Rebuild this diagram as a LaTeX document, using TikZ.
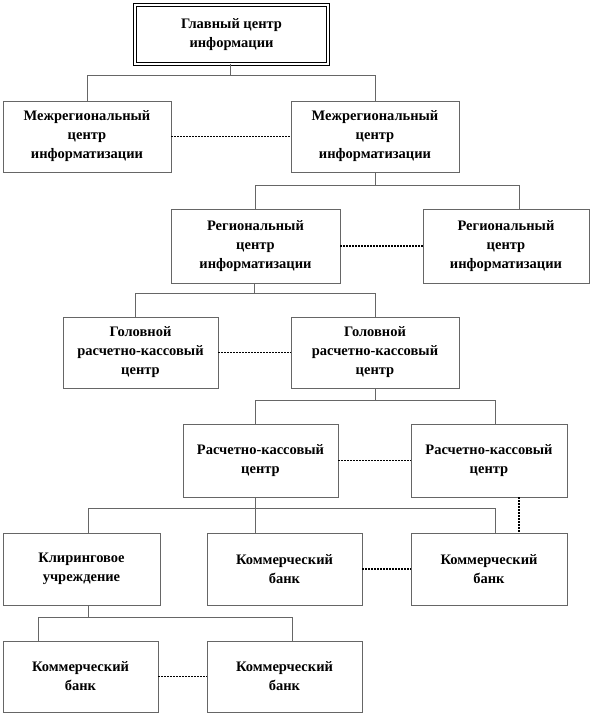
\documentclass[tikz,border=0pt]{standalone}
\usepackage{fontspec}
\setmainfont{Liberation Serif}
\begin{document}
\begin{tikzpicture}[x=1pt,y=-1pt,
  box/.style={draw=black!60,line width=0.7pt,fill=white,align=center,
    font=\fontsize{14.5}{19}\selectfont\bfseries,inner sep=0pt},
  tree/.style={draw=black!60,line width=0.7pt},
  peer/.style={draw=black,line width=1.4pt,dash pattern=on 1.6pt off 1.4pt},
]
\useasboundingbox (0,0) rectangle (594,716);
% nodes
\node[box,draw=black,line width=0.8pt,double,double distance=2pt,minimum width=193pt,minimum height=59pt] (top) at (231.5,34.5) {Главный центр\\информации};
\node[box,minimum width=168pt,minimum height=71pt] (m1) at (87,136.5) {Межрегиональный\\центр\\информатизации};
\node[box,minimum width=168pt,minimum height=71pt] (m2) at (375,136.5) {Межрегиональный\\центр\\информатизации};
\node[box,minimum width=169pt,minimum height=74pt] (r1) at (255.5,246) {Региональный\\центр\\информатизации};
\node[box,minimum width=166pt,minimum height=74pt] (r2) at (506,246) {Региональный\\центр\\информатизации};
\node[box,minimum width=155pt,minimum height=71pt] (g1) at (140.5,352.5) {Головной\\расчетно-кассовый\\центр};
\node[box,minimum width=168pt,minimum height=71pt] (g2) at (375,352.5) {Головной\\расчетно-кассовый\\центр};
\node[box,minimum width=155pt,minimum height=73pt] (k1) at (260.5,460.5) {Расчетно-кассовый\\центр};
\node[box,minimum width=156pt,minimum height=73pt] (k2) at (489,460.5) {Расчетно-кассовый\\центр};
\node[box,minimum width=157pt,minimum height=72pt] (cl) at (81.5,569) {Клиринговое\\учреждение};
\node[box,minimum width=155pt,minimum height=72pt] (b1) at (284.5,569) {Коммерческий\\банк};
\node[box,minimum width=156pt,minimum height=72pt] (b2) at (489,569) {Коммерческий\\банк};
\node[box,minimum width=155pt,minimum height=71pt] (b3) at (80.5,676.5) {Коммерческий\\банк};
\node[box,minimum width=155pt,minimum height=71pt] (b4) at (284.5,676.5) {Коммерческий\\банк};
% tree connectors
\draw[tree] ([xshift=-1.5pt]top.south) -- ([xshift=-1.5pt]top.south |- 0,75) coordinate (j1);
\draw[tree] (j1) -| (m1.north);
\draw[tree] (j1) -| (m2.north);
\draw[tree] (m2.south) -- (m2.south |- 0,185) coordinate (j2);
\draw[tree] (j2) -| ([xshift=-0.5pt]r1.north);
\draw[tree] (j2) -| ([xshift=13pt]r2.north);
\draw[tree] ([xshift=-1.5pt]r1.south) -- ([xshift=-1.5pt]r1.south |- 0,293) coordinate (j3);
\draw[tree] (j3) -| ([xshift=-5.5pt]g1.north);
\draw[tree] (j3) -| (g2.north);
\draw[tree] (g2.south) -- (g2.south |- 0,400) coordinate (j4);
\draw[tree] (j4) -| ([xshift=-5.5pt]k1.north);
\draw[tree] (j4) -| ([xshift=6pt]k2.north);
\draw[tree] ([xshift=-5.5pt]k1.south) -- ([xshift=-29.5pt]b1.north);
\coordinate (j5) at ([xshift=-5.5pt]k1.south |- 0,508);
\draw[tree] (j5) -| ([xshift=6.5pt]cl.north);
\draw[tree] (j5) -| ([xshift=6pt]b2.north);
\draw[tree] ([xshift=6.5pt]cl.south) -- ([xshift=6.5pt]cl.south |- 0,617) coordinate (j6);
\draw[tree] (j6) -| ([xshift=-42.5pt]b3.north);
\draw[tree] (j6) -| ([xshift=7.5pt]b4.north);
% peer connectors
\draw[peer] (m1.east) -- (m2.west);
\draw[peer] (r1.east) -- (r2.west);
\draw[peer] (g1.east) -- (g2.west);
\draw[peer] (k1.east) -- (k2.west);
\draw[peer] (b1.east) -- (b2.west);
\draw[peer] (b3.east) -- (b4.west);
\draw[peer] ([xshift=30pt]k2.south) -- ([xshift=30pt]b2.north);
\end{tikzpicture}
\end{document}
